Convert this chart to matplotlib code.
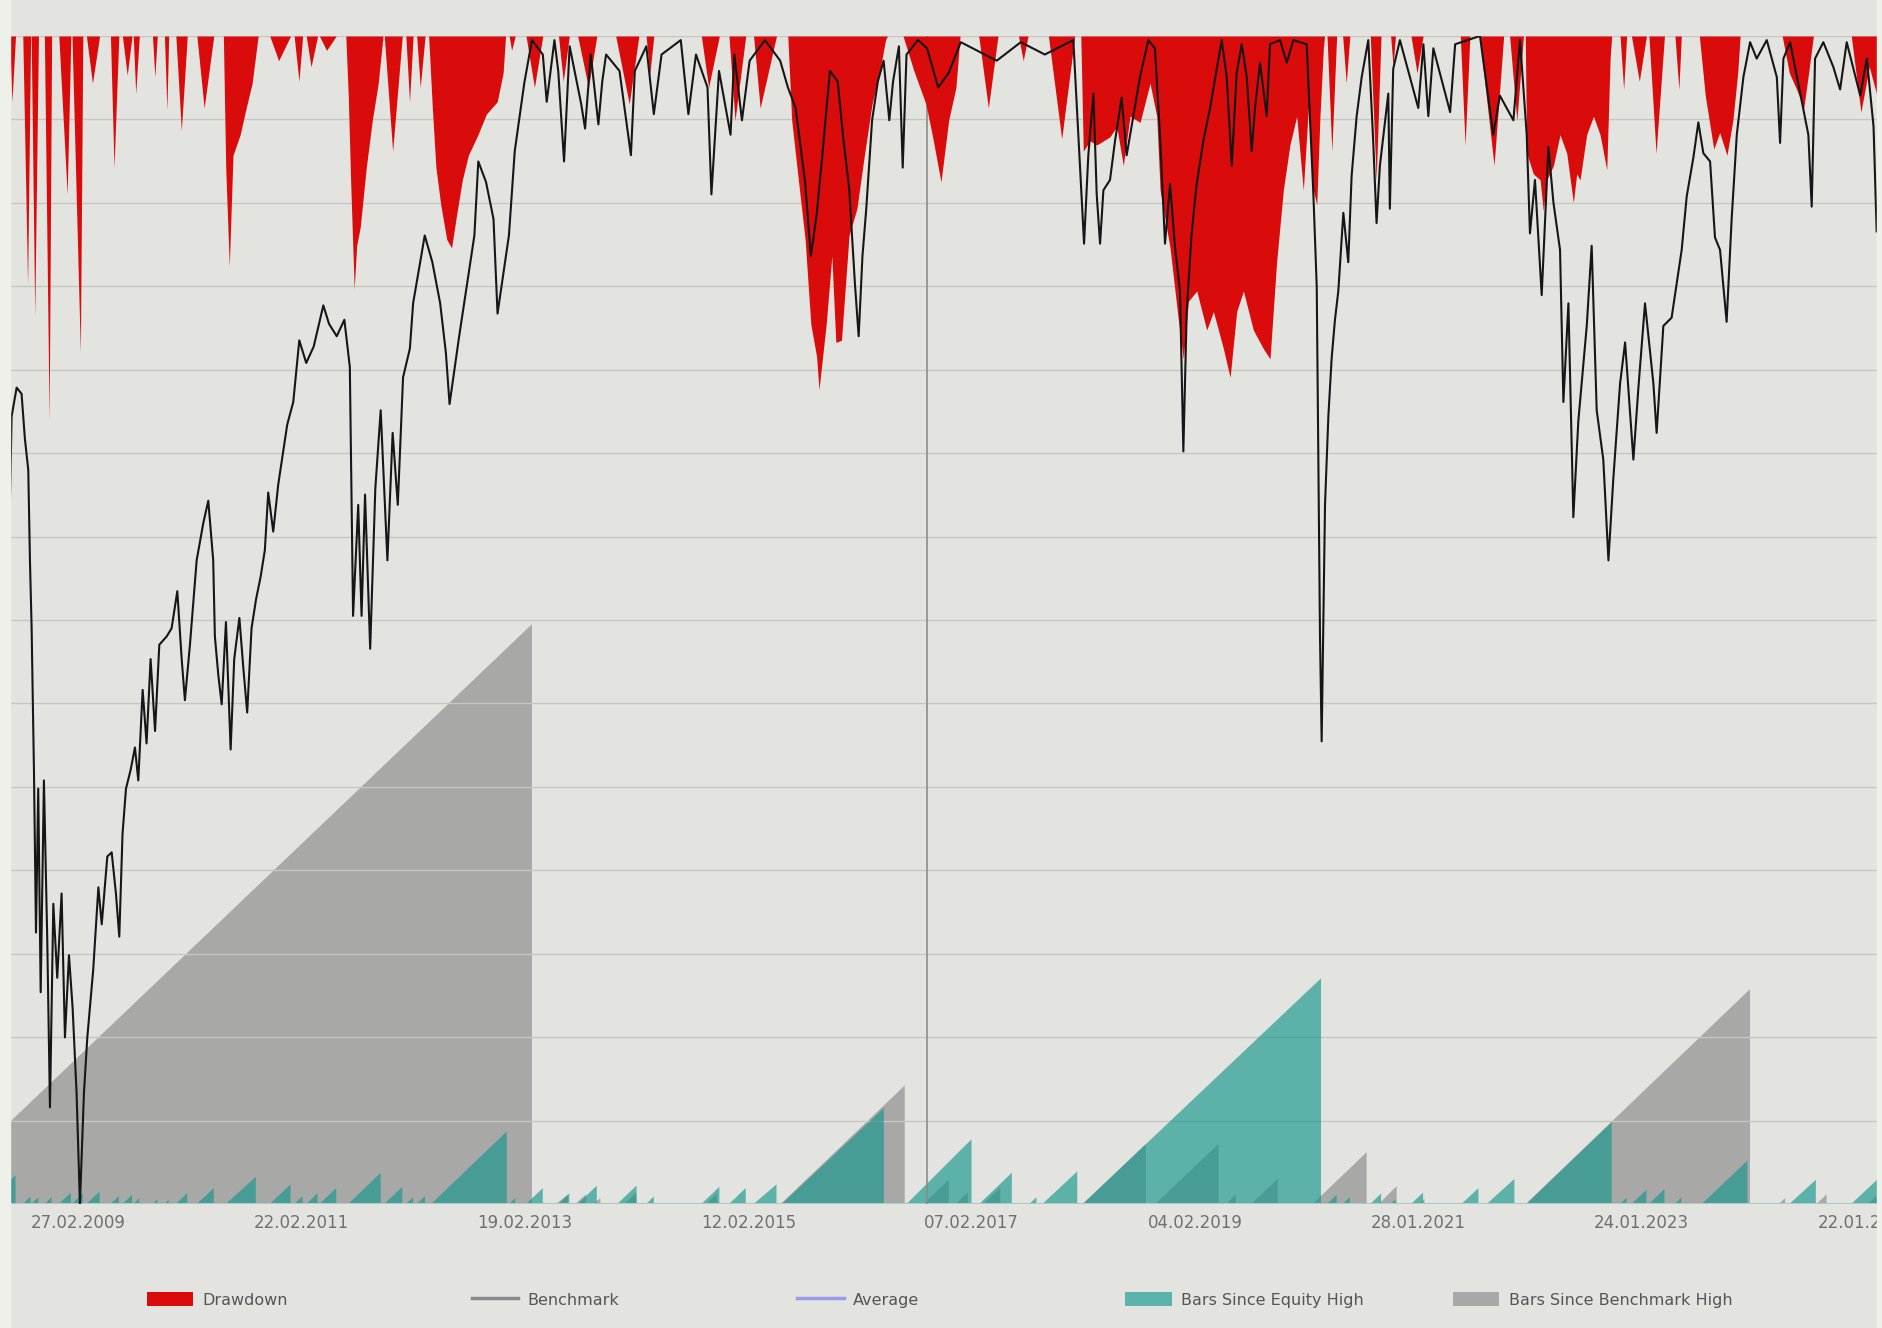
import matplotlib
matplotlib.use("Agg")
import matplotlib.pyplot as plt
from matplotlib.patches import Patch, Rectangle
from matplotlib.lines import Line2D

# x values are decimal years, drawdowns in percent
bench_t = [2008.548, 2008.563, 2008.608, 2008.652, 2008.682, 2008.712, 2008.727, 2008.742, 2008.763, 2008.781,
           2008.801, 2008.823, 2008.852, 2008.882, 2008.906, 2008.936, 2008.971, 2009.010, 2009.040, 2009.076,
           2009.109, 2009.144, 2009.174, 2009.210, 2009.240, 2009.293, 2009.339, 2009.369, 2009.419, 2009.458,
           2009.496, 2009.526, 2009.555, 2009.586, 2009.627, 2009.666, 2009.696, 2009.735, 2009.770, 2009.806,
           2009.846, 2009.884, 2009.950, 2009.994, 2010.045, 2010.084, 2010.113, 2010.158, 2010.218, 2010.277,
           2010.322, 2010.366, 2010.381, 2010.412, 2010.442, 2010.480, 2010.522, 2010.554, 2010.600, 2010.635,
           2010.670, 2010.709, 2010.749, 2010.790, 2010.828, 2010.858, 2010.903, 2010.948, 2010.987, 2011.028,
           2011.082, 2011.136, 2011.198, 2011.265, 2011.351, 2011.402, 2011.471, 2011.539, 2011.588, 2011.617,
           2011.663, 2011.693, 2011.724, 2011.770, 2011.816, 2011.864, 2011.924, 2011.971, 2012.017, 2012.064,
           2012.125, 2012.154, 2012.258, 2012.326, 2012.396, 2012.447, 2012.480, 2012.566, 2012.702, 2012.737,
           2012.806, 2012.873, 2012.909, 2013.011, 2013.063, 2013.148, 2013.217, 2013.314, 2013.349, 2013.418,
           2013.452, 2013.504, 2013.554, 2013.657, 2013.692, 2013.743, 2013.811, 2013.846, 2013.880, 2014.000,
           2014.102, 2014.137, 2014.240, 2014.307, 2014.376, 2014.548, 2014.616, 2014.684, 2014.787, 2014.822,
           2014.890, 2014.993, 2015.027, 2015.095, 2015.164, 2015.301, 2015.437, 2015.506, 2015.575, 2015.660,
           2015.711, 2015.763, 2015.814, 2015.882, 2015.951, 2016.002, 2016.054, 2016.105, 2016.139, 2016.173,
           2016.207, 2016.259, 2016.311, 2016.362, 2016.413, 2016.447, 2016.499, 2016.533, 2016.567, 2016.670,
           2016.751, 2016.850, 2016.944, 2017.052, 2017.374, 2017.589, 2017.804, 2018.059, 2018.155, 2018.193,
           2018.239, 2018.268, 2018.298, 2018.328, 2018.387, 2018.432, 2018.491, 2018.536, 2018.596, 2018.655,
           2018.730, 2018.789, 2018.835, 2018.879, 2018.924, 2018.969, 2019.013, 2019.043, 2019.073, 2019.117,
           2019.162, 2019.222, 2019.282, 2019.342, 2019.386, 2019.431, 2019.476, 2019.520, 2019.565, 2019.610,
           2019.654, 2019.684, 2019.729, 2019.788, 2019.818, 2019.908, 2019.968, 2020.027, 2020.146, 2020.206,
           2020.236, 2020.250, 2020.265, 2020.280, 2020.310, 2020.340, 2020.369, 2020.399, 2020.429, 2020.474,
           2020.518, 2020.548, 2020.593, 2020.638, 2020.697, 2020.741, 2020.771, 2020.801, 2020.876, 2020.890,
           2020.920, 2020.980, 2021.144, 2021.190, 2021.234, 2021.279, 2021.429, 2021.474, 2021.696, 2021.815,
           2021.874, 2021.995, 2022.054, 2022.114, 2022.143, 2022.188, 2022.248, 2022.308, 2022.353, 2022.412,
           2022.442, 2022.487, 2022.531, 2022.576, 2022.651, 2022.695, 2022.740, 2022.799, 2022.845, 2022.889,
           2022.949, 2022.994, 2023.068, 2023.113, 2023.172, 2023.247, 2023.276, 2023.336, 2023.410, 2023.500,
           2023.545, 2023.605, 2023.649, 2023.694, 2023.754, 2023.798, 2023.843, 2023.902, 2023.947, 2023.993,
           2024.052, 2024.112, 2024.171, 2024.261, 2024.351, 2024.380, 2024.410, 2024.470, 2024.633, 2024.663,
           2024.693, 2024.767, 2024.856, 2024.917, 2024.976, 2025.097, 2025.156, 2025.216, 2025.244]
bench_dd = [-22.6, -18.5, -17.1, -17.4, -19.6, -21.1, -25.5, -28.8, -35.8, -43.6,
            -36.6, -46.5, -36.2, -44.0, -52.1, -42.2, -45.8, -41.7, -48.7, -44.7,
            -47.3, -51.4, -56.8, -51.4, -48.7, -45.4, -41.4, -43.2, -39.9, -39.7,
            -41.7, -43.8, -38.8, -36.6, -35.7, -34.6, -36.2, -31.8, -34.4, -30.3,
            -33.8, -29.6, -29.2, -28.8, -27.0, -30.3, -32.3, -29.6, -25.5, -23.7,
            -22.6, -25.5, -29.2, -31.1, -32.5, -28.5, -34.7, -30.3, -28.3, -30.7,
            -32.9, -28.8, -27.4, -26.3, -25.0, -22.2, -24.1, -21.8, -20.4, -18.9,
            -17.8, -14.8, -15.9, -15.1, -13.1, -14.0, -14.6, -13.8, -16.1, -28.2,
            -22.8, -28.2, -22.3, -29.8, -22.0, -18.2, -25.5, -19.3, -22.8, -16.6,
            -15.2, -13.0, -9.7, -11.0, -13.0, -15.4, -17.9, -14.6, -9.7, -6.1,
            -7.1, -8.9, -13.5, -9.7, -5.6, -2.3, -0.2, -0.9, -3.2, -0.2,
            -1.7, -6.1, -0.5, -3.3, -4.5, -0.9, -4.3, -2.2, -0.9, -1.7,
            -5.8, -1.7, -0.5, -3.8, -0.9, -0.2, -3.8, -0.9, -2.5, -7.7,
            -1.7, -4.8, -0.9, -4.1, -1.2, -0.2, -1.2, -2.5, -3.5, -7.1,
            -10.7, -8.7, -5.8, -1.7, -2.2, -5.0, -7.4, -12.0, -14.6, -10.7,
            -8.4, -4.1, -2.2, -1.2, -4.1, -2.2, -0.5, -6.4, -0.9, -0.2,
            -0.6, -2.5, -1.8, -0.3, -1.2, -0.3, -0.9, -0.2, -10.1, -5.8,
            -2.8, -7.7, -10.1, -7.5, -7.0, -5.1, -3.0, -5.8, -3.9, -2.0,
            -0.2, -0.6, -4.9, -10.1, -7.2, -10.3, -12.4, -20.2, -13.4, -9.6,
            -7.2, -5.1, -3.5, -1.6, -0.2, -2.0, -6.3, -1.8, -0.4, -2.0,
            -5.6, -3.5, -1.3, -3.9, -0.4, -0.2, -1.3, -0.2, -0.4, -7.7,
            -12.2, -20.4, -29.1, -34.3, -22.8, -18.5, -15.7, -13.8, -12.4, -8.6,
            -11.0, -6.8, -3.9, -2.0, -0.2, -5.1, -9.1, -6.3, -2.8, -8.4,
            -1.6, -0.2, -3.5, -0.4, -3.9, -0.6, -3.7, -0.4, 0.0, -4.8,
            -2.9, -4.1, -0.2, -4.8, -9.6, -7.0, -12.6, -5.4, -8.1, -10.4,
            -17.8, -13.0, -23.4, -18.7, -14.1, -10.2, -18.2, -20.6, -25.5, -21.5,
            -16.9, -14.9, -20.6, -17.1, -13.0, -16.9, -19.3, -14.1, -13.7, -10.4,
            -7.8, -5.9, -4.2, -5.7, -6.1, -9.8, -10.4, -13.9, -8.9, -4.8,
            -2.0, -0.3, -1.1, -0.2, -2.0, -5.2, -1.1, -0.3, -4.8, -8.3,
            -1.1, -0.3, -1.5, -2.6, -0.3, -2.9, -1.1, -4.4, -9.5]

# strategy drawdown (red area)
dd_t = [2008.545, 2008.566, 2008.598, 2008.663, 2008.706, 2008.733, 2008.738, 2008.770, 2008.803,
        2008.856, 2008.899, 2008.921, 2008.985, 2009.060, 2009.093, 2009.103, 2009.178, 2009.200,
        2009.232, 2009.286, 2009.350, 2009.447, 2009.479, 2009.522, 2009.554, 2009.597, 2009.640,
        2009.651, 2009.673, 2009.705, 2009.823, 2009.844, 2009.866, 2009.930, 2009.952, 2009.968,
        2010.032, 2010.081, 2010.134, 2010.220, 2010.285, 2010.371,
        2010.457, 2010.478, 2010.510, 2010.543, 2010.607, 2010.661, 2010.714, 2010.768,
        2010.872, 2010.951, 2011.058, 2011.090, 2011.133, 2011.166, 2011.198, 2011.241, 2011.300,
        2011.316, 2011.380, 2011.466,
        2011.552, 2011.574, 2011.595, 2011.627, 2011.649, 2011.681, 2011.735, 2011.789, 2011.842, 2011.885,
        2011.896, 2011.971, 2012.057, 2012.089, 2012.122, 2012.154, 2012.186, 2012.218, 2012.261,
        2012.293, 2012.326, 2012.358, 2012.401, 2012.455, 2012.498, 2012.540, 2012.594, 2012.648,
        2012.734, 2012.809, 2012.906, 2012.959, 2012.981,
        2013.013, 2013.035, 2013.067, 2013.164, 2013.239, 2013.314, 2013.454, 2013.497, 2013.551,
        2013.626, 2013.722, 2013.797, 2013.966, 2014.087, 2014.173, 2014.238, 2014.270, 2014.307,
        2014.732, 2014.797, 2014.893, 2014.979, 2015.033, 2015.129, 2015.199, 2015.258, 2015.404,
        2015.505, 2015.540, 2015.608, 2015.660, 2015.711, 2015.763, 2015.784, 2015.849, 2015.899,
        2015.935, 2015.985, 2016.053, 2016.123, 2016.190, 2016.259, 2016.328, 2016.379, 2016.396,
        2016.536, 2016.633, 2016.740, 2016.804, 2016.875, 2016.944, 2017.009, 2017.046,
        2017.213, 2017.299, 2017.385, 2017.568, 2017.611, 2017.654, 2017.836, 2017.955, 2018.072,
        2018.126, 2018.148, 2018.209, 2018.268, 2018.328, 2018.387, 2018.447, 2018.506, 2018.566,
        2018.656, 2018.745, 2018.805, 2018.835, 2018.924, 2018.998, 2019.043, 2019.088, 2019.163,
        2019.252, 2019.312, 2019.401, 2019.461, 2019.520, 2019.580, 2019.669, 2019.758, 2019.818,
        2019.877, 2019.937, 2019.996, 2020.057, 2020.116, 2020.161, 2020.206, 2020.236, 2020.265,
        2020.295, 2020.306,
        2020.328, 2020.371, 2020.414, 2020.468, 2020.500, 2020.532, 2020.715, 2020.768, 2020.811,
        2020.897, 2020.919, 2020.940, 2021.079, 2021.133, 2021.187, 2021.520, 2021.563, 2021.606,
        2021.692, 2021.822, 2021.908, 2021.961, 2022.026, 2022.085,
        2022.101, 2022.114, 2022.173, 2022.234, 2022.262, 2022.293, 2022.353, 2022.412, 2022.472,
        2022.531, 2022.561, 2022.591, 2022.650, 2022.711, 2022.770, 2022.830, 2022.860, 2022.874,
        2022.949, 2022.981, 2023.008, 2023.051, 2023.121, 2023.185, 2023.207, 2023.271, 2023.346,
        2023.440, 2023.475, 2023.497,
        2023.658, 2023.711, 2023.787, 2023.840, 2023.905, 2023.958, 2024.001, 2024.023,
        2024.399, 2024.463, 2024.528, 2024.592, 2024.635, 2024.678,
        2025.017, 2025.103, 2025.178, 2025.247]
dd_val = [0, -3.2, 0, 0, -12.1, 0, 0, -13.6, 0,
          0, -18.7, 0, 0, -7.7, 0, 0, -15.4, 0,
          0, -2.3, 0, 0, -6.4, 0, 0, -1.9, 0,
          0, -2.8, 0, 0, -2.0, 0, 0, -3.6, 0,
          0, -4.6, 0, 0, -3.5, 0,
          0, -6.4, -11.2, -5.8, -4.8, -3.5, -2.3, 0,
          0, -1.2, 0, 0, -2.2, 0, 0, -1.5, 0,
          0, -0.7, 0,
          0, -2.9, -7.0, -12.3, -10.2, -9.3, -6.4, -4.1, -2.3, 0,
          0, -5.6, 0, 0, -3.2, 0, 0, -2.5, 0,
          0, -3.5, -6.4, -8.2, -9.9, -10.3, -8.8, -7.0, -5.8,
          -4.8, -3.8, -3.2, -1.8, 0,
          0, -0.7, 0, 0, -2.5, 0, 0, -2.2, 0,
          0, -2.5, 0, 0, -3.3, 0, 0, -1.9, 0,
          0, -2.5, 0, 0, -4.1, 0, 0, -3.5, 0,
          0, -4.1, -7.4, -9.9, -14.0, -15.6, -17.2, -14.0, -10.7,
          -14.9, -14.8, -9.7, -8.4, -5.8, -3.3, -1.7, -0.2, 0,
          0, -1.7, -3.3, -5.0, -7.1, -4.1, -2.5, 0,
          0, -3.5, 0, 0, -1.2, 0, 0, -5.0, 0,
          0, -5.6, -5.1, -5.3, -5.1, -4.9, -4.4, -6.3, -3.9,
          -4.2, -2.3, -3.9, -7.5, -10.3, -13.8, -15.7, -12.9, -12.4,
          -14.3, -13.4, -15.2, -16.6, -13.4, -12.4, -14.3, -15.2, -15.7,
          -11.0, -7.5, -5.3, -3.9, -7.5, -3.5, -7.5, -8.2, -3.9,
          -0.6, 0,
          0, -5.6, 0, 0, -2.3, 0, 0, -7.0, 0,
          0, -1.5, 0, 0, -1.8, 0, 0, -5.3, 0,
          0, -6.3, 0, 0, -4.1, 0,
          0, -5.7, -6.7, -7.0, -8.5, -7.0, -6.3, -4.8, -5.7,
          -8.1, -6.7, -7.0, -4.8, -3.9, -4.8, -6.5, -1.1, 0,
          0, -2.6, 0, 0, -2.2, 0, 0, -5.7, 0,
          0, -2.6, 0,
          0, -2.9, -5.5, -4.7, -5.8, -4.1, -1.8, 0,
          0, -1.8, -2.6, -3.5, -1.8, 0,
          0, -3.7, -1.5, -2.9]

# bars since equity high: episode start, end, bars at start, bars at end
eq_start = [2008.545, 2008.663, 2008.738, 2008.856, 2008.985, 2009.103, 2009.232, 2009.447, 2009.554,
            2009.651, 2009.823, 2009.930, 2010.032, 2010.220, 2010.478, 2010.872, 2011.090, 2011.198,
            2011.316, 2011.574, 2011.896, 2012.089, 2012.186, 2012.315, 2013.013, 2013.164, 2013.454,
            2013.626, 2013.980, 2014.238, 2014.732, 2014.979, 2015.199, 2015.451, 2016.568, 2017.218,
            2017.664, 2017.782, 2018.143, 2020.328, 2020.468, 2020.715, 2020.897, 2021.079, 2021.531,
            2021.756, 2022.111, 2022.949, 2023.051, 2023.207, 2023.440, 2023.679, 2024.463, 2025.017]
eq_end = [2008.598, 2008.733, 2008.803, 2008.921, 2009.093, 2009.200, 2009.350, 2009.522, 2009.640,
          2009.705, 2009.866, 2009.968, 2010.134, 2010.371, 2010.747, 2011.058, 2011.166, 2011.300,
          2011.466, 2011.864, 2012.057, 2012.154, 2012.261, 2012.992, 2013.067, 2013.314, 2013.551,
          2013.797, 2014.152, 2014.307, 2014.893, 2015.129, 2015.404, 2016.364, 2017.148, 2017.509,
          2017.729, 2018.094, 2020.274, 2020.414, 2020.532, 2020.811, 2020.940, 2021.187, 2021.682,
          2022.004, 2022.874, 2023.008, 2023.185, 2023.346, 2023.497, 2024.088, 2024.700, 2025.247]
eq_base = [55] + [0] * 53
eq_peak = [69, 18, 16, 16, 27, 25, 30, 19, 22,
           14, 11, 10, 26, 38, 65, 47, 19, 26,
           38, 75, 41, 16, 19, 174, 14, 38, 25,
           44, 44, 18, 41, 38, 47, 230, 155, 75,
           16, 78, 541, 22, 16, 25, 11, 27, 38,
           60, 196, 15, 34, 36, 16, 104, 58, 58]

# bars since benchmark high
bm_start = [2008.545, 2013.432, 2013.604, 2013.765, 2014.044, 2014.775, 2015.441, 2016.719, 2017.009,
            2017.252, 2018.143, 2018.792, 2019.425, 2019.651, 2020.199, 2020.790, 2021.150, 2022.105,
            2024.367, 2024.707, 2025.167]
bm_end = [2013.217, 2013.539, 2013.701, 2013.829, 2014.152, 2014.871, 2016.551, 2016.944, 2017.116,
          2017.406, 2018.708, 2019.358, 2019.511, 2019.887, 2020.682, 2020.951, 2021.200, 2024.111,
          2024.426, 2024.796, 2025.247]
bm_base = [196] + [0] * 20
bm_peak = [1390, 23, 23, 14, 28, 25, 284, 58, 28,
           40, 144, 144, 23, 60, 124, 43, 13, 515,
           14, 23, 20]

marker_year = 2016.751
tick_years = [2009.157, 2011.155, 2013.153, 2015.151, 2017.149, 2019.147, 2021.145, 2023.143, 2025.141]
tick_labels = ["27.02.2009", "22.02.2011", "19.02.2013", "12.02.2015", "07.02.2017",
               "04.02.2019", "28.01.2021", "24.01.2023", "22.01.2025"]

BG = "#e3e3df"
RED = "#da0b0b"
TEAL = "#14968c"
GRAY = "#a8a8a6"

fig = plt.figure(figsize=(18.83, 13.28), dpi=100, facecolor=BG)
fig.patches.append(Rectangle((0, 0), 9.6 / 1883, 1, transform=fig.transFigure,
                             color="#eef0ea", zorder=0))
fig.patches.append(Rectangle((1877 / 1883, 0), 6 / 1883, 1, transform=fig.transFigure,
                             color="#eef0ea", zorder=0))

ax = fig.add_axes([9.6 / 1883, 1 - 1204 / 1328, 1867.4 / 1883, 1168 / 1328])
ax.set_facecolor(BG)
ax.set_ylim(0, 2800)
ax.set_xlim(2008.545, 2025.247)
ax.set_yticks(range(0, 2801, 200))
ax.set_axisbelow("line")
ax.grid(axis="y", color="#c6c6c2", lw=1.0)
ax.grid(axis="x", visible=False)

for s, e, b, p in zip(bm_start, bm_end, bm_base, bm_peak):
    ax.fill([s, e, e, s], [b, p, 0, 0], color=GRAY, lw=0, zorder=1)
for s, e, b, p in zip(eq_start, eq_end, eq_base, eq_peak):
    ax.fill([s, e, e, s], [b, p, 0, 0], color=TEAL, alpha=0.65, lw=0, zorder=2)

ax.axhline(0, color="#a9cbc6", lw=1.5, zorder=3)
ax.axvline(marker_year, color="#8c8c8c", lw=1.2, zorder=4)

ax.set_xticks(tick_years)
ax.set_xticklabels(tick_labels)
ax.tick_params(axis="x", length=0, pad=7, labelsize=12, labelcolor="#707070")
ax.tick_params(axis="y", left=False, labelleft=False)
for sp in ax.spines.values():
    sp.set_visible(False)

ax2 = ax.twinx()
ax2.set_ylim(-56.8, 0)
ax2.fill_between(dd_t, dd_val, 0, color=RED, lw=0, zorder=2)
ax2.plot(bench_t, bench_dd, color="#161616", lw=1.5, zorder=3)
ax2.tick_params(axis="y", right=False, labelright=False)
for sp in ax2.spines.values():
    sp.set_visible(False)

# legend, one entry per slot like the original
handles = [Patch(facecolor=RED), Line2D([], [], color="#8a8a8a", lw=2.5),
           Line2D([], [], color="#9a9af0", lw=2.5), Patch(facecolor="#5ab4ac"), Patch(facecolor=GRAY)]
names = ["Drawdown", "Benchmark", "Average", "Bars Since Equity High", "Bars Since Benchmark High"]
slots = [122, 393, 664, 937, 1210]
for h, n, x in zip(handles, names, slots):
    leg = fig.legend([h], [n], loc="center left", bbox_to_anchor=(x / 1568, 0.0211),
                     frameon=False, fontsize=11.5, handlelength=2.9, handleheight=1.0,
                     handletextpad=0.6, borderpad=0, borderaxespad=0)
    for t in leg.get_texts():
        t.set_color("#555555")

fig.savefig("out.png", dpi=100, facecolor=BG)
